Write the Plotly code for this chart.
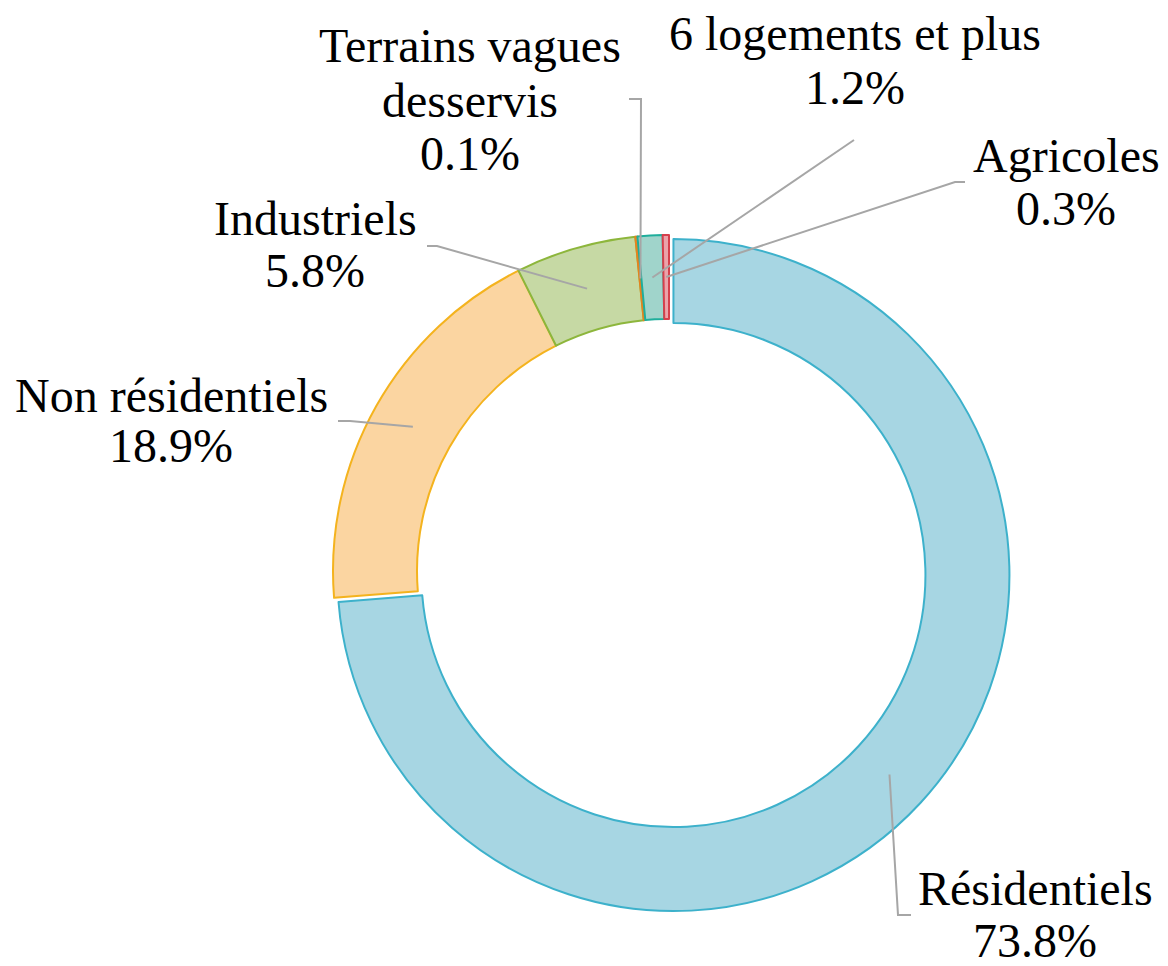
import math
import plotly.graph_objects as go

# ---- data ----
categories = ["Résidentiels", "Non résidentiels", "Industriels",
              "Terrains vagues<br>desservis", "6 logements et plus", "Agricoles"]
values = [73.8, 18.9, 5.8, 0.1, 1.2, 0.3]
pct_labels = ["73.8%", "18.9%", "5.8%", "0.1%", "1.2%", "0.3%"]

fill_colors = ["#A7D6E3", "#FBD5A1", "#C6D9A4", "#F5B57A", "#A0D4CB", "#EBA3AA"]
line_colors = ["#3DB1CB", "#F4B31E", "#8DB63C", "#E8821E", "#1FAE9C", "#D5404C"]
pulls = [0.018, 0, 0, 0, 0, 0]

# ---- layout geometry (pixels) ----
W, H = 1168, 966
CX, CY = 669, 571          # pie centre
HOLE = 0.75
R = 336                     # outer radius of the pie
span = 2 * R * (1 + max(pulls))
dom_x = [(CX - span / 2) / W, (CX + span / 2) / W]
dom_y = [1 - (CY + span / 2) / H, 1 - (CY - span / 2) / H]

def px(x):
    return x / W

def py(y):
    return 1 - y / H

fig = go.Figure(go.Pie(
    labels=categories,
    values=values,
    sort=False,
    direction="clockwise",
    rotation=0,
    hole=HOLE,
    pull=pulls,
    textinfo="none",
    marker=dict(colors=fill_colors, line=dict(color=line_colors, width=2)),
    domain=dict(x=dom_x, y=dom_y),
    showlegend=False,
))

# anchor points of leader lines (mid-ring, mid-angle of each slice)
total = sum(values)
anchors = []
cum = 0
r_mid = R * (1 + HOLE) / 2
for v, p in zip(values, pulls):
    mid = (cum + v / 2) / total
    cum += v
    a = 2 * math.pi * mid
    dx, dy = math.sin(a), -math.cos(a)
    off = p * R
    anchors.append((CX + (r_mid + off) * dx, CY + (r_mid + off) * dy))

# label bend points and ends (pixels)
leader_pts = [
    [(898, 915), (911, 915)],
    [(350, 421), (338, 421)],
    [(437, 246), (427, 246)],
    [(641, 99), (629, 99)],
    [(854, 140)],
    [(955, 182), (965, 182)],
]
shapes = []
for (ax, ay), pts in zip(anchors, leader_pts):
    path = f"M {px(ax)},{py(ay)}"
    for (x, y) in pts:
        path += f" L {px(x)},{py(y)}"
    shapes.append(dict(type="path", xref="paper", yref="paper", path=path,
                       line=dict(color="#A6A6A6", width=2)))

# label positions: centre x and baseline of each text line (pixels)
label_x = [1035, 171, 315, 470, 855, 1066]
label_baselines = [
    [905, 957],
    [412, 462],
    [235, 287],
    [62, 117, 170],
    [50, 104],
    [172, 225],
]
FS = 48
FONT = "Times New Roman, Liberation Serif, DejaVu Serif, serif"
annotations = []
for name, pct, x, bases in zip(categories, pct_labels, label_x, label_baselines):
    lines = name.split("<br>") + [pct]
    for txt, b in zip(lines, bases):
        annotations.append(dict(
            x=px(x), y=py(b - 0.34 * FS), xref="paper", yref="paper",
            text=txt, showarrow=False,
            xanchor="center", yanchor="middle", align="center",
            font=dict(family=FONT, size=FS, color="black"),
        ))

fig.update_layout(
    width=W, height=H,
    margin=dict(l=0, r=0, t=0, b=0),
    paper_bgcolor="white",
    plot_bgcolor="white",
    font=dict(family=FONT),
    shapes=shapes,
    annotations=annotations,
)

fig.write_html("out.html", config={"displayModeBar": False},
               post_script="document.body.style.margin='0';")
